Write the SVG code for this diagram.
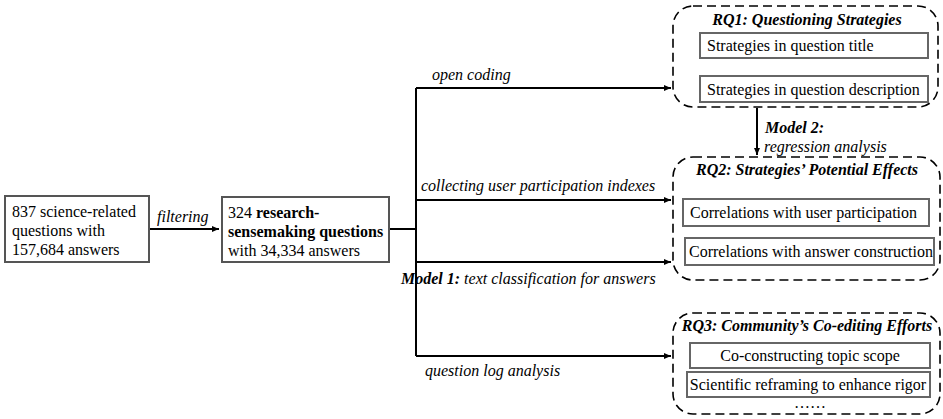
<svg xmlns="http://www.w3.org/2000/svg" width="943" height="419" viewBox="0 0 943 419">
<defs>
<marker id="ah" markerWidth="8" markerHeight="8" refX="7" refY="4" orient="auto" markerUnits="userSpaceOnUse">
<path d="M0,1 L7,4 L0,7 Z" fill="#000"/>
</marker>
<style>
text{font-family:"Times New Roman","Liberation Serif",Tinos,"DejaVu Serif",serif;font-size:16px;fill:#000}
.i{font-style:italic}
.b{font-weight:bold}
.bi{font-weight:bold;font-style:italic}
.box{fill:#fff;stroke:#555;stroke-width:2}
.ibox{fill:#fff;stroke:#666;stroke-width:2}
.dash{fill:none;stroke:#000;stroke-width:1.6;stroke-dasharray:9 5}
.ln{fill:none;stroke:#000;stroke-width:2}
</style>
</defs>
<rect width="943" height="419" fill="#fff"/>
<g id="connectors">
<path class="ln" d="M149,229 H219" marker-end="url(#ah)"/>
<path class="ln" d="M389,229 H416"/>
<path class="ln" d="M416,88 V356"/>
<path class="ln" d="M416,88 H671" marker-end="url(#ah)"/>
<path class="ln" d="M416,200 H671" marker-end="url(#ah)"/>
<path class="ln" d="M416,262 H671" marker-end="url(#ah)"/>
<path class="ln" d="M416,356 H671" marker-end="url(#ah)"/>
<path class="ln" d="M757,108 V155" marker-end="url(#ah)"/>
<text class="i" x="157" y="222">filtering</text>
<text class="i" x="432" y="80">open coding</text>
<text class="i" x="421" y="191">collecting user participation indexes</text>
<text class="i" x="401" y="284"><tspan class="b">Model 1:</tspan> text classification for answers</text>
<text class="i" x="425" y="376">question log analysis</text>
<text class="bi" x="765" y="133">Model 2:</text>
<text class="i" x="764" y="152">regression analysis</text>
</g>
<g id="source">
<rect class="box" x="5" y="196" width="144" height="66"/>
<text x="12" y="217">837 science-related</text>
<text x="12" y="236">questions with</text>
<text x="12" y="255">157,684 answers</text>
</g>
<g id="filtered">
<rect class="box" x="222" y="197" width="167" height="65"/>
<text x="228" y="218">324 <tspan class="b">research-</tspan></text>
<text class="b" x="228" y="237">sensemaking questions</text>
<text x="228" y="256">with 34,334 answers</text>
</g>
<g id="rq1">
<rect class="dash" x="673" y="6" width="265" height="101" rx="20"/>
<text class="bi" x="807" y="25" text-anchor="middle">RQ1: Questioning Strategies</text>
<rect class="ibox" x="700" y="33" width="228" height="25"/>
<text x="707" y="51">Strategies in question title</text>
<rect class="ibox" x="700" y="76" width="228" height="26"/>
<text x="707" y="95">Strategies in question description</text>
</g>
<g id="rq2">
<rect class="dash" x="673" y="157" width="267" height="123" rx="20"/>
<text class="bi" x="807" y="175" text-anchor="middle">RQ2: Strategies’ Potential Effects</text>
<rect class="ibox" x="683" y="199" width="246" height="27"/>
<text x="690" y="218">Correlations with user participation</text>
<rect class="ibox" x="685" y="238" width="249" height="27"/>
<text x="689" y="257">Correlations with answer construction</text>
</g>
<g id="rq3">
<rect class="dash" x="673" y="313" width="267" height="101" rx="20"/>
<text class="bi" x="807" y="331" text-anchor="middle">RQ3: Community’s Co-editing Efforts</text>
<rect class="ibox" x="690" y="343" width="240" height="25"/>
<text x="810" y="361" text-anchor="middle">Co-constructing topic scope</text>
<rect class="ibox" x="687" y="372" width="243" height="25"/>
<text x="808" y="390" text-anchor="middle">Scientific reframing to enhance rigor</text>
<text x="810" y="408" text-anchor="middle">……</text>
</g>
</svg>
